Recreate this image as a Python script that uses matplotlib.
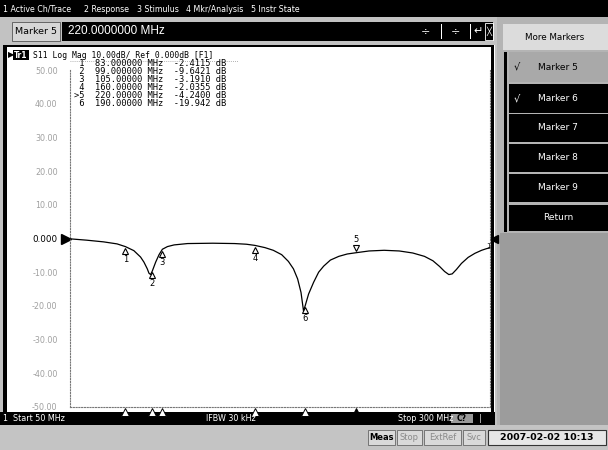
import matplotlib
matplotlib.use("Agg")
import matplotlib.pyplot as plt
from matplotlib.patches import Rectangle
from matplotlib.transforms import offset_copy, blended_transform_factory

# ---------------- data ----------------
freq_mhz = [50, 60, 70, 78, 83, 88, 92, 94, 96, 97, 98, 99, 101, 103, 105,
            108, 112, 120, 135, 148, 155, 160, 166, 171, 176, 180, 183, 185.5,
            187.5, 189, 190, 192, 195, 198, 201, 205, 210, 215, 220, 228, 237,
            246, 254, 261, 266, 270, 273, 275.5, 277.5, 280, 283, 287, 291, 295,
            298, 300]
s11_db = [-0.1, -0.5, -1.0, -1.6, -2.41, -3.6, -5.5, -7.0, -9.0, -10.3, -10.7,
          -9.64, -7.0, -4.8, -3.19, -2.4, -1.9, -1.5, -1.4, -1.5, -1.7, -2.04,
          -2.7, -3.5, -4.8, -6.8, -9.0, -12.0, -16.0, -21.5, -19.94, -16.5,
          -13.0, -10.0, -8.2, -6.4, -5.3, -4.6, -4.24, -3.7, -3.5, -3.7, -4.3,
          -5.3, -6.6, -8.3, -9.8, -10.7, -10.5, -9.2, -7.4, -5.6, -4.4, -3.5,
          -3.0, -2.8]

marker_ids = ["1", "2", "3", "4", "5", "6"]
marker_freq = [83, 99, 105, 160, 220, 190]
marker_db = [-2.4115, -9.6421, -3.1910, -2.0355, -4.2400, -19.942]
marker_freq_txt = ["83.000000", "99.000000", "105.00000", "160.00000", "220.00000", "190.00000"]
marker_db_txt = ["-2.4115", "-9.6421", "-3.1910", "-2.0355", "-4.2400", "-19.942"]
active_marker = "5"

ytick_vals = [50, 40, 30, 20, 10, 0, -10, -20, -30, -40, -50]
ytick_labels = ["50.00", "40.00", "30.00", "20.00", "10.00", "0.000",
                "-10.00", "-20.00", "-30.00", "-40.00", "-50.00"]

menu_items = ["1 Active Ch/Trace", "2 Response", "3 Stimulus", "4 Mkr/Analysis", "5 Instr State"]
softkeys = ["Marker 5", "Marker 6", "Marker 7", "Marker 8", "Marker 9", "Return"]
softkey_checked = [True, True, False, False, False, False]

# ---------------- figure ----------------
W, H = 608, 450
fig = plt.figure(figsize=(W / 100, H / 100), dpi=100)
fig.patch.set_facecolor("white")


def R(x, y, w, h, fc, ec="none", lw=0, z=-5, **kw):
    fig.add_artist(Rectangle((x / W, 1 - (y + h) / H), w / W, h / H,
                             transform=fig.transFigure, facecolor=fc,
                             edgecolor=ec, linewidth=lw, zorder=z, **kw))


def T(x, y, s, **kw):
    kw.setdefault("va", "center")
    kw.setdefault("ha", "left")
    kw.setdefault("fontsize", 6.5)
    fig.text(x / W, 1 - y / H, s, **kw)


# backgrounds
R(0, 0, W, H, "#c2c2c2", z=-10)
R(0, 0, W, 17, "black")
menu_x = [3, 84, 137, 186, 251]
for mx, item in zip(menu_x, menu_items):
    T(mx, 9, item, color="white", fontsize=5.7)

# entry bar
R(12, 22, 48, 19, "#d6d6d6", ec="#555555", lw=0.6)
T(15, 31.5, "Marker 5", color="black", fontsize=6.8)
R(62, 22, 431, 19, "black")
T(68, 31.5, "220.0000000 MHz", color="white", fontsize=8.5, family="Liberation Sans")
T(425, 31.5, "÷", color="white", fontsize=8, ha="center")
T(455, 31.5, "÷", color="white", fontsize=8, ha="center")
R(441, 24, 1, 15, "white", z=-4)
R(470, 24, 1, 15, "white", z=-4)
T(478, 31.5, "↵", color="white", fontsize=8, ha="center")
R(485, 23, 8, 17, "none", ec="white", lw=0.6, z=-4)
T(489, 31.5, "╳", color="white", fontsize=6, ha="center")

# right soft-key panel
R(497, 17, 111, 433, "#b4b4b4", z=-9)
R(503, 24, 105, 26, "#dcdcdc")
T(555, 37, "More Markers", color="black", fontsize=6.3, ha="center")
R(504, 52, 3, 180, "black")
key_y = [52, 84, 114, 144, 174, 205]
key_h = [30, 29, 28, 28, 28, 26]
for ky, kh, lab, chk in zip(key_y, key_h, softkeys, softkey_checked):
    first = lab == "Marker 5"
    fc = "#a9a9a9" if first else "black"
    tc = "black" if first else "white"
    R(509, ky, 99, kh, fc)
    T(558, ky + kh / 2, lab, color=tc, fontsize=6.5, ha="center")
    if chk:
        T(517, ky + kh / 2, "√", color=tc, fontsize=7, ha="center")
R(500, 233, 108, 192, "#9c9c9c")

# measurement window
R(3, 45, 492, 368, "white", z=-8)
R(3, 45, 4, 368, "black")
R(491, 45, 3, 368, "black")
R(3, 45, 491, 1.5, "black")
T(8, 55, "▶", color="black", fontsize=6)
R(13, 50, 16, 10, "black")
T(21, 55, "Tr1", color="white", fontsize=5.5, ha="center", weight="bold")
T(33, 55, "S11 Log Mag 10.00dB/ Ref 0.000dB [F1]", color="black",
  fontsize=5.8, family="DejaVu Sans Mono")

# status bar
R(0, 412, 495, 13, "black")
T(3, 418.5, "1  Start 50 MHz", color="white", fontsize=5.8)
T(206, 418.5, "IFBW 30 kHz", color="white", fontsize=5.8)
T(398, 418.5, "Stop 300 MHz", color="white", fontsize=5.8)
R(451, 414, 22, 9, "#9a9a9a")
T(462, 418.5, "C?", color="black", fontsize=5.5, ha="center", weight="bold")
T(479, 418.5, "|", color="white", fontsize=5.8)

# bottom row
R(0, 425, W, 25, "#c4c4c4", z=-9)
bot_boxes = [(368, 27, "Meas", "black"), (397, 25, "Stop", "#8a8a8a"),
             (424, 37, "ExtRef", "#8a8a8a"), (463, 22, "Svc", "#8a8a8a")]
for bx, bw, lab, col in bot_boxes:
    R(bx, 430, bw, 15, "#d9d9d9", ec="#666666", lw=0.6)
    T(bx + bw / 2, 437.5, lab, color=col, fontsize=6, ha="center",
      weight="bold" if col == "black" else "normal")
R(488, 430, 118, 15, "#e6e6e6", ec="#333333", lw=0.8)
T(547, 437.5, "2007-02-02 10:13", color="black", fontsize=6.8, ha="center", weight="bold")

# ---------------- plot axes ----------------
ax = fig.add_axes([70 / W, 1 - 407 / H, 420 / W, 337 / H])
ax.set_facecolor("none")
ax.set_xlim(50, 300)
ax.set_ylim(-50, 50)
ax.set_xticks([])
ax.set_yticks(ytick_vals)
ax.set_yticklabels(ytick_labels)
ax.tick_params(axis="y", length=0, pad=9, labelsize=5.8, labelcolor="#a0a0a0")
for lbl, v in zip(ax.get_yticklabels(), ytick_vals):
    if v == 0:
        lbl.set_color("black")
        lbl.set_fontsize(6.3)
for side in ["left", "right", "bottom"]:
    ax.spines[side].set_linestyle((0, (1, 1.5)))
    ax.spines[side].set_color("#777777")
    ax.spines[side].set_linewidth(0.8)
ax.spines["top"].set_visible(False)

ax.plot(freq_mhz, s11_db, color="black", lw=0.9, zorder=3)

# reference-level pointers
ax.plot([50], [0], marker=">", ms=6.5, color="black", clip_on=False,
        transform=offset_copy(ax.transData, fig=fig, x=-4, units="dots"))
ax.plot([300], [0], marker="<", ms=6, color="black", clip_on=False,
        transform=offset_copy(ax.transData, fig=fig, x=4, units="dots"))
ax.text(300, 0, "1", fontsize=5, ha="center", va="center", clip_on=False,
        transform=offset_copy(ax.transData, fig=fig, x=-2, y=-7, units="dots"))

# markers on trace
for mid, mf, mv in zip(marker_ids, marker_freq, marker_db):
    if mid == active_marker:
        ax.plot([mf], [mv], marker="v", ms=5, mfc="white", mec="black", mew=0.8,
                transform=offset_copy(ax.transData, fig=fig, y=4.5, units="dots"), zorder=4)
        ax.text(mf, mv, mid, fontsize=6, ha="center", va="center",
                transform=offset_copy(ax.transData, fig=fig, y=13, units="dots"))
    else:
        ax.plot([mf], [mv], marker="^", ms=5, mfc="white", mec="black", mew=0.8,
                transform=offset_copy(ax.transData, fig=fig, y=-4.5, units="dots"), zorder=4)
        ax.text(mf, mv, mid, fontsize=6, ha="center", va="center",
                transform=offset_copy(ax.transData, fig=fig, y=-13, units="dots"))

# marker indicators along bottom edge
btm = blended_transform_factory(ax.transData, ax.transAxes)
for mid, mf in zip(marker_ids, marker_freq):
    act = mid == active_marker
    ax.plot([mf], [0], marker="^", ms=5.5, mfc="black" if act else "white",
            mec="black", mew=0.7, clip_on=False,
            transform=offset_copy(btm, fig=fig, y=-5, units="dots"))

# marker table
ax.plot([50, 150], [52.8, 52.8], ls=(0, (1, 1.5)), color="#999999", lw=0.6, clip_on=False)
for i, (mid, ft, dt) in enumerate(zip(marker_ids, marker_freq_txt, marker_db_txt)):
    pre = ">" if mid == active_marker else " "
    line = f"{pre}{mid} {ft:>10} MHz {dt:>8} dB"
    T(74, 63.5 + i * 7.9, line, color="black", fontsize=6.3, family="DejaVu Sans Mono")

fig.savefig("out.png", dpi=100)
